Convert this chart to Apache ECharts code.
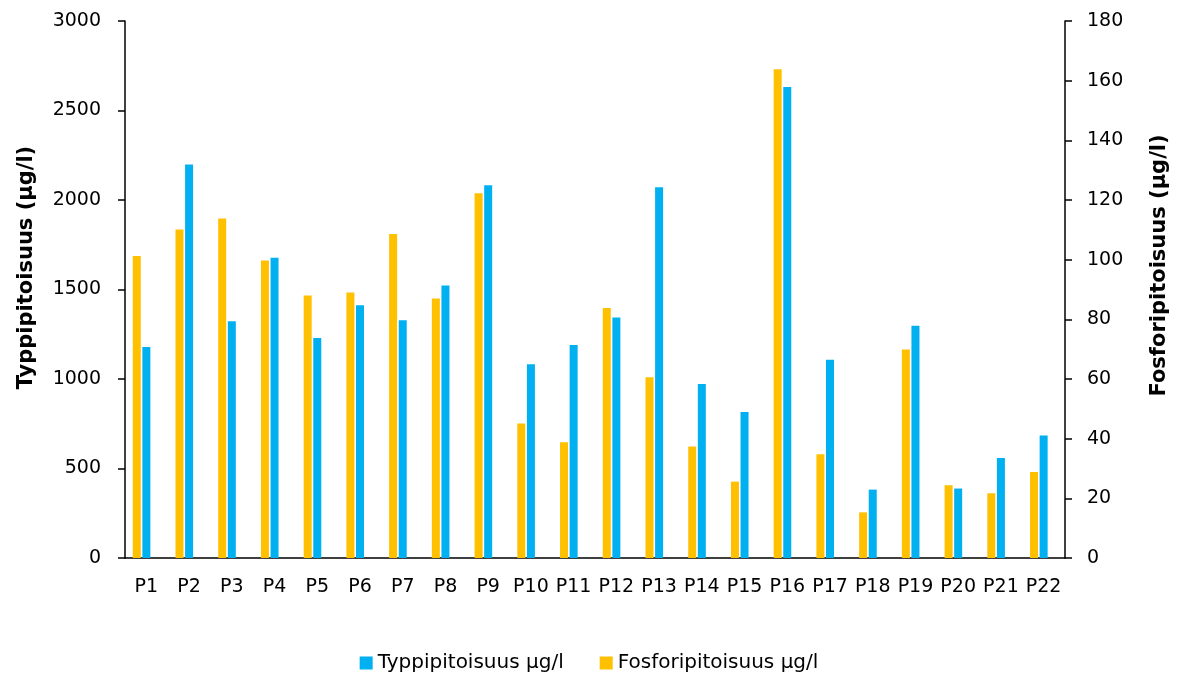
<!DOCTYPE html>
<html>
<head>
<meta charset="utf-8">
<script src="https://cdn.jsdelivr.net/npm/echarts@6/dist/echarts.min.js"></script>
<style>html,body{margin:0;padding:0;background:#fff}#c{width:1178px;height:675px}</style>
</head>
<body>
<div id="c"></div>
<script>
const categories = ['P1','P2','P3','P4','P5','P6','P7','P8','P9','P10','P11','P12','P13','P14','P15','P16','P17','P18','P19','P20','P21','P22'];
const nitrogen = [1179,2199,1322,1678,1229,1412,1328,1523,2082,1082,1190,1343,2071,972,816,2631,1108,382,1298,388,559,685];
const phosphorus = [101.2,110.1,113.8,99.7,88.0,89.0,108.6,87.0,122.3,45.1,38.8,83.8,60.6,37.4,25.6,163.8,34.8,15.3,69.9,24.4,21.7,28.8];
const emptySeries = [];
const leftTicks = {min:0, max:3000, interval:500};
const rightTicks = {min:0, max:180, interval:20};
const nName = 'Typpipitoisuus µg/l';
const pName = 'Fosforipitoisuus µg/l';

const font = 'DejaVu Sans, Liberation Sans, sans-serif';
const chart = echarts.init(document.getElementById('c'));
const axisLine = {show:true, lineStyle:{color:'#000', width:1.5}};
chart.setOption({
  animation:false,
  textStyle:{fontFamily:font},
  grid:{left:125, right:112, top:21, bottom:117},
  legend:{
    data:[nName, pName],
    top:648, left:'center',
    itemWidth:13, itemHeight:13, itemGap:36,
    icon:'rect',
    textStyle:{fontSize:20, color:'#000', fontFamily:font}
  },
  xAxis:{
    type:'category', data:categories,
    axisLine:axisLine, axisTick:{show:false},
    axisLabel:{fontSize:19, color:'#000', margin:20, interval:0}
  },
  yAxis:[{
    type:'value', position:'left', ...leftTicks,
    name:'Typpipitoisuus (µg/l)', nameLocation:'middle', nameGap:88, nameRotate:90,
    nameTextStyle:{fontSize:21, fontWeight:'bold', color:'#000', padding:[0,0,0,44]},
    axisLine:axisLine, axisTick:{show:true, length:7, lineStyle:{color:'#000', width:1.5}},
    axisLabel:{fontSize:19, color:'#000', margin:24, formatter:v=>String(v)},
    splitLine:{show:false}
  },{
    type:'value', position:'right', ...rightTicks,
    name:'Fosforipitoisuus (µg/l)', nameLocation:'middle', nameGap:84, nameRotate:90,
    nameTextStyle:{fontSize:21, fontWeight:'bold', color:'#000', padding:[0,0,0,48]},
    axisLine:axisLine, axisTick:{show:true, length:7, lineStyle:{color:'#000', width:1.5}},
    axisLabel:{fontSize:19, color:'#000', margin:22, formatter:v=>String(v)},
    splitLine:{show:false}
  }],
  series:[{
    name:pName, type:'bar', yAxisIndex:1, data:phosphorus,
    barWidth:8, barGap:'20%',
    itemStyle:{color:'#FFC000'}
  },{
    name:nName, type:'bar', yAxisIndex:0, data:nitrogen,
    barWidth:8, barGap:'20%',
    itemStyle:{color:'#00B0F0'}
  },{
    name:'spacer', type:'bar', yAxisIndex:0, data:emptySeries,
    barWidth:8, barGap:'20%', silent:true
  }]
});
</script>
</body>
</html>
